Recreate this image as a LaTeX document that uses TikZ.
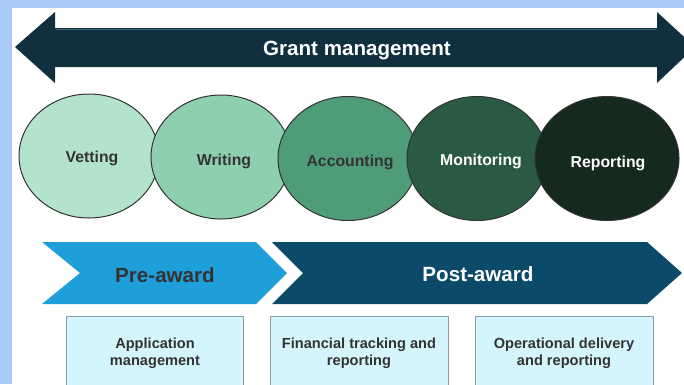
\documentclass[tikz,border=0pt]{standalone}
\usepackage{fontspec}
\setmainfont{Liberation Sans}
\usetikzlibrary{shapes.geometric}
\definecolor{framebg}{HTML}{A9C9F7}
\definecolor{navyarrow}{HTML}{10303F}
\definecolor{navyedge}{HTML}{3E6575}
\definecolor{cVet}{HTML}{B4E3CB}
\definecolor{cWri}{HTML}{8ECFAE}
\definecolor{cAcc}{HTML}{4F9D76}
\definecolor{cMon}{HTML}{2B5A43}
\definecolor{cRep}{HTML}{15291F}
\definecolor{preblue}{HTML}{1F9FD9}
\definecolor{postblue}{HTML}{0C4A6A}
\definecolor{boxfill}{HTML}{D5F5FC}
\definecolor{boxedge}{HTML}{8C9CA3}
\definecolor{txtdark}{HTML}{333333}
\begin{document}
\begin{tikzpicture}[x=1pt,y=-1pt,
  bigtxt/.style={font=\fontsize{20.6}{24}\selectfont\bfseries, inner sep=0pt},
  phase/.style={ellipse, draw=black!80, line width=1pt, minimum width=140pt, minimum height=124pt, inner sep=0pt},
  phasetxt/.style={font=\fontsize{15.8}{18}\selectfont\bfseries, inner sep=0pt},
  infobox/.style={fill=boxfill, draw=boxedge, line width=1pt},
  boxtxt/.style={font=\fontsize{14.6}{17}\selectfont\bfseries, text=txtdark, align=center, inner sep=0pt}
]
\useasboundingbox (0,0) rectangle (684,384);
\fill[framebg] (0,0) rectangle (684,384);
\fill[white] (12,8) rectangle (690,390);

% double arrow
\fill[navyarrow] (15,47) -- (55,12) -- (55,28) -- (657,28) -- (657,12) -- (695,47) -- (657,83) -- (657,67) -- (55,67) -- (55,83) -- cycle;
\draw[navyedge, line width=0.8pt] (56,29.5) -- (656,29.5);
\node[bigtxt, text=white] (gm) at (357,50) {Grant management};

% phases
\node[phase, fill=cVet] (vet) at (89,156) {};
\node[phase, fill=cWri] (wri) at (221,157) {};
\node[phase, fill=cAcc] (acc) at (348,158.5) {};
\node[phase, fill=cMon] (mon) at (477,158.5) {};
\node[phase, fill=cRep, minimum width=144pt] (rep) at (607,158.5) {};
\node[phasetxt, text=txtdark] (tvet) at (92,158) {Vetting};
\node[phasetxt, text=txtdark] (twri) at (224,161) {Writing};
\node[phasetxt, text=txtdark] (tacc) at (350,162) {Accounting};
\node[phasetxt, text=white] (tmon) at (481,161) {Monitoring};
\node[phasetxt, text=white] (trep) at (608,163) {Reporting};

% chevrons
\fill[preblue] (42,242) -- (256,242) -- (287,273) -- (256,304) -- (42,304) -- (80,273) -- cycle;
\fill[postblue] (272,242) -- (647,242) -- (682,273) -- (647,304) -- (272,304) -- (303,273) -- cycle;
\node[bigtxt, text=txtdark] (pre) at (165,275) {Pre-award};
\node[bigtxt, text=white] (post) at (478,274) {Post-award};

% boxes
\draw[infobox] (66,316) rectangle (243,392);
\draw[infobox] (270,316) rectangle (448,392);
\draw[infobox] (475,316) rectangle (653,392);
\node[boxtxt] (b1) at (155,353) {Application\\management};
\node[boxtxt] (b2) at (359,353) {Financial tracking and\\reporting};
\node[boxtxt] (b3) at (564,353) {Operational delivery\\and reporting};
\end{tikzpicture}
\end{document}
